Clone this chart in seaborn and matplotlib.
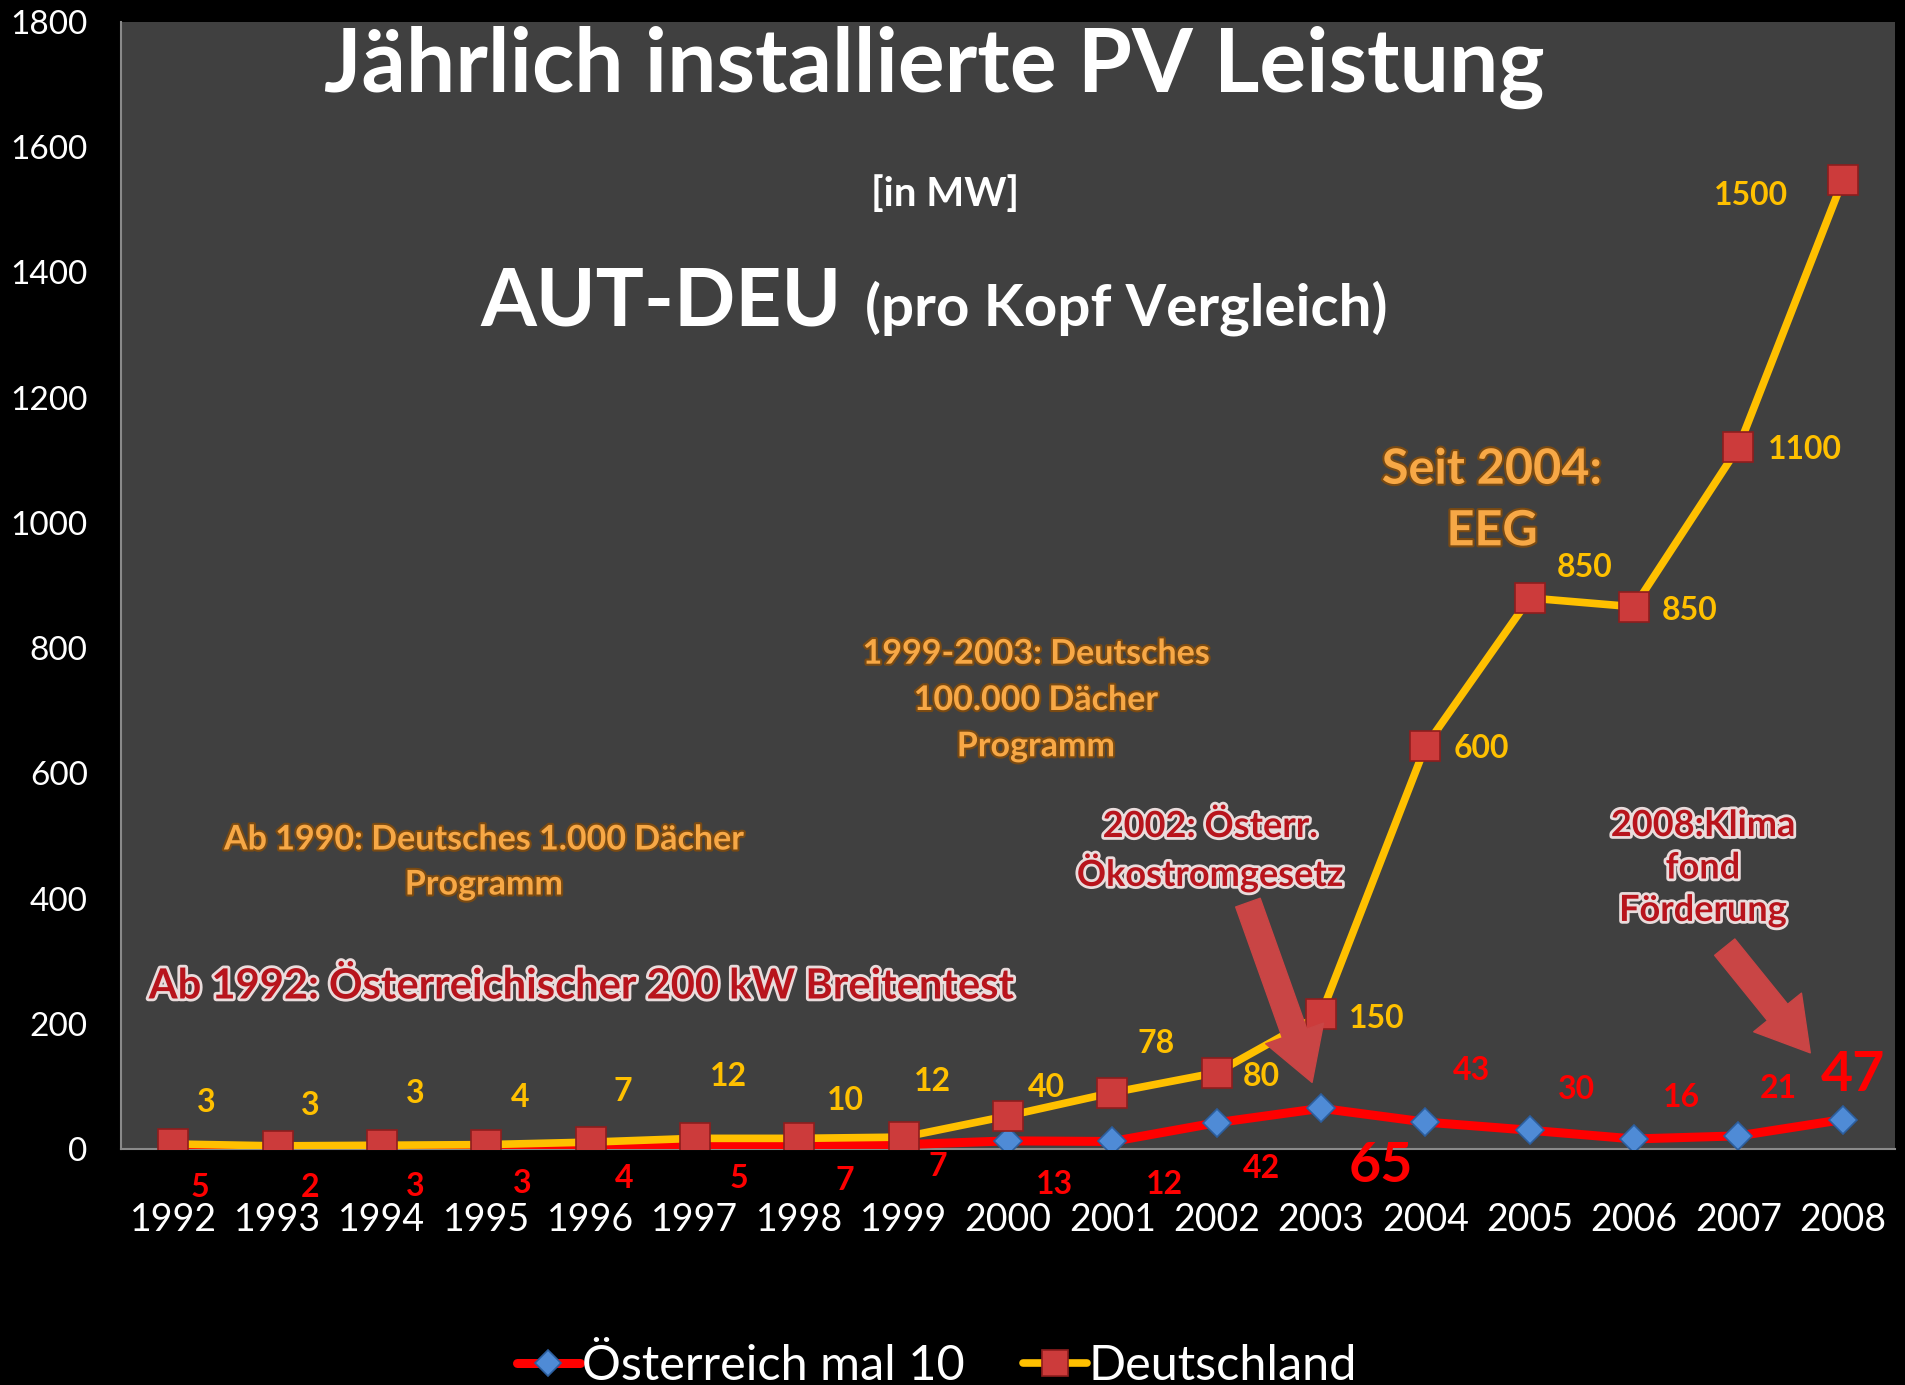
import numpy as np
import pandas as pd
import matplotlib
matplotlib.use("Agg")
import matplotlib.pyplot as plt
import matplotlib.patheffects as pe
import seaborn as sns

# ---------------- data ----------------
years = ["1992", "1993", "1994", "1995", "1996", "1997", "1998", "1999", "2000",
         "2001", "2002", "2003", "2004", "2005", "2006", "2007", "2008"]
austria_x10 = [5, 2, 3, 3, 4, 5, 7, 7, 13, 12, 42, 65, 43, 30, 16, 21, 47]
germany = [3, 3, 3, 4, 7, 12, 10, 12, 40, 78, 80, 150, 600, 850, 850, 1100, 1500]
series_names = ["Österreich mal 10", "Deutschland"]
y_ticks = [0, 200, 400, 600, 800, 1000, 1200, 1400, 1600, 1800]

# label offsets (pixels) relative to the stacked point
de_off = [(33, 41), (33, 40), (33, 52), (34, 47), (32, 51), (34, 62), (46, 38), (29, 56),
          (38, 28), (44, 49), (45, -4), (56, -4), (56, -2), (55, 31), (56, -4), (66, -2), (-92, -15)]
at_off = [(27, -42), (33, -40), (33, -39), (36, -36), (34, -32), (44, -33), (46, -36), (34, -22),
          (46, -44), (52, -43), (45, -46), (60, -58), (46, 52), (47, 41), (47, 41), (40, 47), (10, 45)]
at_big = {"2003", "2008"}

# ---------------- style ----------------
sns.set_theme(style="dark")
plt.rcParams["font.family"] = ["Lato", "DejaVu Sans"]

W, H = 1905, 1385
fig = plt.figure(figsize=(W / 100, H / 100), dpi=100, facecolor="black")
ax = fig.add_axes([121 / W, 1 - 1149 / H, (1895 - 121) / W, (1149 - 22) / H])
ax.set_facecolor("#404040")

idx = np.arange(len(years))
stacked = np.array(austria_x10) + np.array(germany)   # stacked line chart
df = pd.DataFrame({"pos": idx, "at": austria_x10, "de": stacked})

sns.lineplot(data=df, x="pos", y="at", ax=ax, color="#FF0000", linewidth=6.5,
             marker="D", markersize=14.5, markerfacecolor="#4F8BD6",
             markeredgecolor="#2C5E9E", markeredgewidth=1.2, label=series_names[0], zorder=3)
sns.lineplot(data=df, x="pos", y="de", ax=ax, color="#FFC000", linewidth=5.5,
             marker="s", markersize=21, markerfacecolor="#CC3B3B",
             markeredgecolor="#8E1E1E", markeredgewidth=1.2, label=series_names[1], zorder=4)

ax.set_xlim(-0.5, len(years) - 0.5)
ax.set_ylim(0, 1800)
ax.set_yticks(y_ticks)
ax.set_yticklabels([str(t) for t in y_ticks], color="white", fontsize=24)
ax.set_xticks(idx)
ax.set_xticklabels(years, color="white", fontsize=27)
ax.tick_params(axis="y", length=0, pad=24)
ax.tick_params(axis="x", length=0, pad=38)
ax.set_xlabel("")
ax.set_ylabel("")
ax.grid(False)
for s in ["top", "right"]:
    ax.spines[s].set_visible(False)
for s in ["left", "bottom"]:
    ax.spines[s].set_visible(True)
    ax.spines[s].set_color("#8a8a8a")
    ax.spines[s].set_linewidth(1.5)

# data labels
for i, y in enumerate(years):
    ax.annotate(str(germany[i]), xy=(idx[i], stacked[i]), xytext=de_off[i],
                textcoords="offset pixels", ha="center", va="center",
                color="#FFC000", fontsize=23, fontweight="bold", zorder=6)
    big = y in at_big
    ax.annotate(str(austria_x10[i]), xy=(idx[i], austria_x10[i]), xytext=at_off[i],
                textcoords="offset pixels", ha="center", va="center",
                color="#FF0000", fontsize=40 if big else 23, fontweight="bold", zorder=6)

# legend
leg = ax.legend(loc="center", bbox_to_anchor=(937 / W, 1 - 1366 / H),
                bbox_transform=fig.transFigure, ncol=2, frameon=False, fontsize=35,
                handlelength=1.3, handletextpad=0.05, columnspacing=1.2, markerscale=0.9)
for t in leg.get_texts():
    t.set_color("white")


def fx(px):
    return px / W


def fy(py):
    return 1 - py / H


# titles
fig.text(fx(934), fy(92), "Jährlich installierte PV Leistung", ha="center", va="baseline",
         color="white", fontsize=63, fontweight="bold")
fig.text(fx(945), fy(194), "[in MW]", ha="center", va="center",
         color="white", fontsize=29, fontweight="bold")
fig.text(fx(480), fy(325), "AUT-DEU", ha="left", va="baseline",
         color="white", fontsize=58, fontweight="bold")
fig.text(fx(865), fy(325), "(pro Kopf Vergleich)", ha="left", va="baseline",
         color="white", fontsize=42, fontweight="bold")

# annotations
orange_fx = [pe.withStroke(linewidth=3, foreground="#7A4A12")]
red_fx = [pe.withStroke(linewidth=4, foreground="#E9DCDC")]
fig.text(fx(484), fy(862), "Ab 1990: Deutsches 1.000 Dächer\nProgramm", ha="center", va="center",
         color="#F7A846", fontsize=24.5, fontweight="bold", linespacing=1.5, path_effects=orange_fx)
fig.text(fx(1036), fy(700), "1999-2003: Deutsches\n100.000 Dächer\nProgramm", ha="center", va="center",
         color="#F7A846", fontsize=24.5, fontweight="bold", linespacing=1.55, path_effects=orange_fx)
fig.text(fx(1492), fy(500), "Seit 2004:\nEEG", ha="center", va="center",
         color="#F7A846", fontsize=35, fontweight="bold", linespacing=1.45, path_effects=orange_fx)
fig.text(fx(581), fy(986), "Ab 1992: Österreichischer 200 kW Breitentest", ha="center", va="center",
         color="#B8141C", fontsize=30, fontweight="bold", path_effects=red_fx)
fig.text(fx(1210), fy(851), "2002: Österr.\nÖkostromgesetz", ha="center", va="center",
         color="#B8141C", fontsize=26, fontweight="bold", linespacing=1.3, path_effects=red_fx)
fig.text(fx(1703), fy(868), "2008:Klima\nfond\nFörderung", ha="center", va="center",
         color="#B8141C", fontsize=26, fontweight="bold", linespacing=1.35, path_effects=red_fx)

# arrows
arrow_style = "simple,head_length=1.1,head_width=1.3,tail_width=0.55"
for tail, head in [((1247, 900), (1313, 1085)), ((1723, 945), (1812, 1055))]:
    fig.patches.append(matplotlib.patches.FancyArrowPatch(
        (fx(tail[0]), fy(tail[1])), (fx(head[0]), fy(head[1])), transform=fig.transFigure,
        arrowstyle=arrow_style, mutation_scale=34, color="#C94545", zorder=7))

fig.savefig("out.png", dpi=100, facecolor="black")
